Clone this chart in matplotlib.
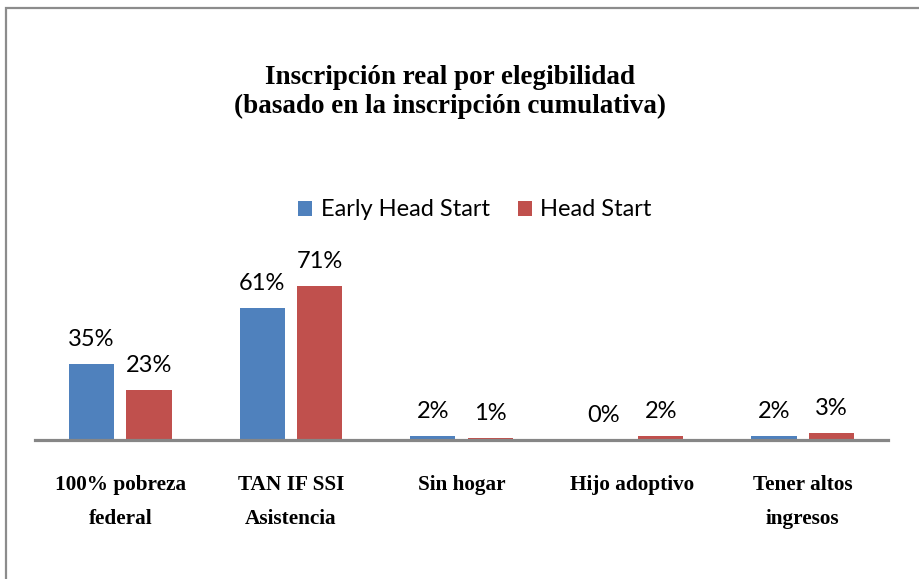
import numpy as np
import matplotlib.pyplot as plt
from matplotlib.patches import Rectangle

# chart data
categories = ["100% pobreza\nfederal", "TAN IF SSI\nAsistencia", "Sin hogar",
              "Hijo adoptivo", "Tener altos\ningresos"]
ehs = [35, 61, 2, 0, 2]
hs = [23, 71, 1, 2, 3]
series_names = ["Early Head Start", "Head Start"]

blue = "#4F81BD"
red = "#C0504D"
sans = ["Lato", "DejaVu Sans"]
serif = ["Liberation Serif", "DejaVu Serif"]

W, H = 920, 579
fig = plt.figure(figsize=(W / 100, H / 100), dpi=100)
fig.patch.set_facecolor("white")

# outer chart border (only top/left visible, like the clipped original)
fig.patches.append(Rectangle((6 / W, -0.1), 1.2, 1 - 8 / H + 0.1, transform=fig.transFigure,
                             fill=False, edgecolor="#8c8c8c", lw=1.6))

# axes placed so the baseline is at y=440px, 2.17px per percent
x0, x1 = 35, 888
base = 440
ymax = 80
ax = fig.add_axes([x0 / W, (H - base) / H, (x1 - x0) / W, ymax * 2.17 / H])

x = np.arange(len(categories))
w = 0.265
off = 0.168
b1 = ax.bar(x - off, ehs, w, color=blue, label=series_names[0])
b2 = ax.bar(x + off, hs, w, color=red, label=series_names[1])

for bars, vals in ((b1, ehs), (b2, hs)):
    for r, v in zip(bars, vals):
        ax.annotate(f"{v}%", (r.get_x() + r.get_width() / 2, v), xytext=(0, 13),
                    textcoords="offset points", ha="center", va="baseline",
                    fontsize=17, family=sans, color="black")

ax.set_xlim(-0.5, len(categories) - 0.5)
ax.set_ylim(0, ymax)
for s in ("top", "right", "left"):
    ax.spines[s].set_visible(False)
ax.spines["bottom"].set_color("#868686")
ax.spines["bottom"].set_linewidth(2.3)
ax.set_yticks([])
ax.set_xticks(x)
ax.set_xticklabels(categories, fontsize=15.3, family=serif, fontweight="bold",
                   linespacing=1.95, va="top")
ax.tick_params(axis="x", length=0, pad=25)

fig.text(450 / W, 1 - 92 / H, "Inscripción real por elegibilidad\n(basado en la inscripción cumulativa)",
         ha="center", va="center", fontsize=19.5, family=serif, fontweight="bold",
         linespacing=1.2)

fig.legend(handles=[b1, b2], labels=series_names, loc="center",
           bbox_to_anchor=(475 / W, 1 - 210 / H), ncol=2, frameon=False,
           prop={"family": sans, "size": 17}, handlelength=0.6, handleheight=0.6,
           handletextpad=0.35, columnspacing=1.2)

fig.savefig("out.png", dpi=100, facecolor="white")
